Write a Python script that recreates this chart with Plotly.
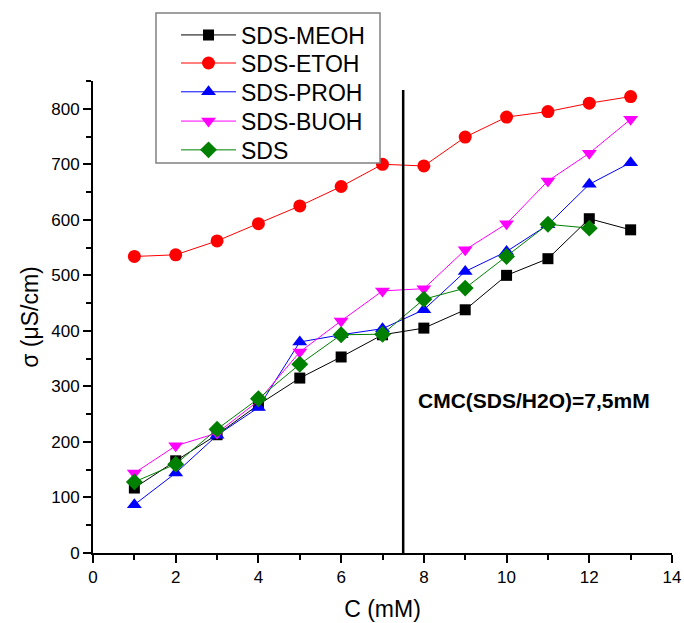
import plotly.graph_objects as go

x_vals = [1, 2, 3, 4, 5, 6, 7, 8, 9, 10, 11, 12, 13]
x_sds = [1, 2, 3, 4, 5, 6, 7, 8, 9, 10, 11, 12]

meoh = [117, 166, 213, 267, 315, 353, 393, 405, 438, 500, 530, 602, 582]
etoh = [534, 537, 562, 593, 625, 660, 700, 697, 749, 785, 795, 810, 822]
proh = [87, 144, 212, 262, 380, 393, 404, 438, 507, 543, 591, 664, 703]
buoh = [144, 193, 216, 274, 362, 418, 472, 476, 546, 593, 670, 720, 781]
sds = [128, 160, 223, 278, 340, 393, 394, 457, 477, 534, 592, 585]

series = [
    ("SDS-MEOH", x_vals, meoh, "black", "square", 11),
    ("SDS-ETOH", x_vals, etoh, "red", "circle", 13),
    ("SDS-PROH", x_vals, proh, "blue", "triangle-up", 13),
    ("SDS-BUOH", x_vals, buoh, "magenta", "triangle-down", 13),
    ("SDS", x_sds, sds, "green", "diamond", 13),
]

cmc_x = 7.5
cmc_label = "CMC(SDS/H2O)=7,5mM"

FONT = "Arial, Liberation Sans, sans-serif"

# legend row centres in paper units (one legend per series)
legend_rows = [1.0975, 1.038, 0.977, 0.915, 0.854]

fig = go.Figure()
legend_layout = {}
for i, (name, xs, ys, col, sym, sz) in enumerate(series):
    lname = "legend" if i == 0 else f"legend{i + 1}"
    fig.add_trace(go.Scatter(
        x=xs, y=ys, name=name, mode="lines+markers",
        line=dict(color=col, width=1),
        marker=dict(color=col, symbol=sym, size=sz, line=dict(width=0)),
        legend=lname,
    ))
    legend_layout[lname] = dict(
        x=0.1434, y=legend_rows[i], xanchor="left", yanchor="middle",
        borderwidth=0, bgcolor="rgba(0,0,0,0)",
        font=dict(family=FONT, size=23, color="black"),
        itemwidth=55,
    )

fig.add_shape(type="line", xref="x", yref="y", x0=cmc_x, x1=cmc_x, y0=-30, y1=834,
              line=dict(color="black", width=2.5), layer="above")
# legend frame
fig.add_shape(type="rect", xref="paper", yref="paper", x0=0.1088, x1=0.4957, y0=0.8263, y1=1.1441,
              line=dict(color="#808080", width=1.5), fillcolor="white", layer="above")
fig.add_annotation(x=7.8, y=275, xref="x", yref="y", text="<b>" + cmc_label + "</b>",
                   showarrow=False, xanchor="left", yanchor="middle",
                   font=dict(family=FONT, size=21, color="black"))

axis_common = dict(
    showline=True, linecolor="black", linewidth=2, mirror=False,
    ticks="outside", ticklen=8, tickwidth=2, tickcolor="black",
    showgrid=False, zeroline=False, automargin=False,
    tickfont=dict(family=FONT, size=17, color="black"),
    title_font=dict(family=FONT, size=23, color="black"),
)

fig.update_xaxes(range=[0, 14], dtick=2, title_text="C (mM)",
                 minor=dict(ticks="outside", ticklen=5, tickwidth=1.5, tickcolor="black", dtick=1),
                 title_standoff=14, **axis_common)
fig.update_yaxes(range=[0, 850], dtick=100, title_text="σ (μS/cm)",
                 minor=dict(ticks="outside", ticklen=5, tickwidth=1.5, tickcolor="black", dtick=50),
                 title_standoff=6, **axis_common)

fig.update_layout(
    width=684, height=623,
    margin=dict(l=93, r=12, t=81, b=70),
    plot_bgcolor="white", paper_bgcolor="white",
    showlegend=True,
    **legend_layout,
)

fig.write_html("out.html")
